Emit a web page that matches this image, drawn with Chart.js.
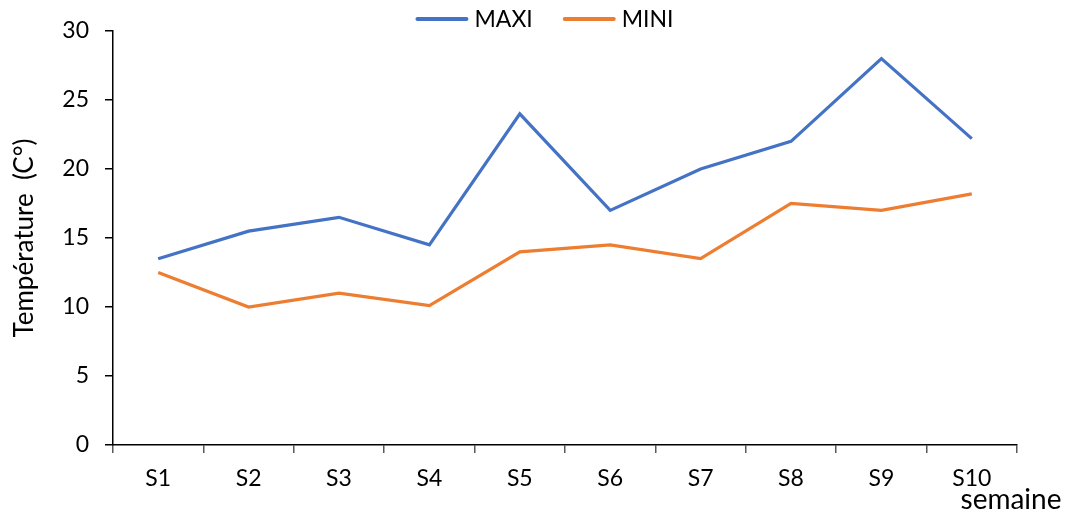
<!DOCTYPE html>
<html>
<head>
<meta charset="utf-8">
<script src="https://cdn.jsdelivr.net/npm/chart.js@4"></script>
<style>
  html, body { margin: 0; padding: 0; background: #ffffff; }
  canvas { display: block; }
</style>
</head>
<body>
<canvas id="chart" width="1065" height="513"></canvas>
<script>
// Weekly temperatures
const weeks = ['S1', 'S2', 'S3', 'S4', 'S5', 'S6', 'S7', 'S8', 'S9', 'S10'];
const maxiValues = [13.5, 15.5, 16.5, 14.5, 24, 17, 20, 22, 28, 22.2];
const miniValues = [12.5, 10, 11, 10.1, 14, 14.5, 13.5, 17.5, 17, 18.2];
const yMin = 0, yMax = 30, yStep = 5;

const FONT = 'Lato, "Open Sans", sans-serif';
const TEXT = '#000000';

// Single-row legend above the plot: a line sample followed by the series name
const topLegend = {
  id: 'topLegend',
  afterDraw(chart) {
    const ctx = chart.ctx;
    const sample = 53, textGap = 6, itemGap = 30, y = 19;
    ctx.save();
    ctx.font = '23px ' + FONT;
    ctx.textBaseline = 'middle';
    ctx.textAlign = 'left';
    const items = chart.data.datasets.map(ds => ({
      label: ds.label,
      color: ds.borderColor,
      w: sample + textGap + ctx.measureText(ds.label).width
    }));
    const total = items.reduce((s, it) => s + it.w, 0) + itemGap * (items.length - 1);
    let x = chart.width / 2 + 12 - total / 2;
    items.forEach(it => {
      ctx.strokeStyle = it.color;
      ctx.lineWidth = 4;
      ctx.lineCap = 'round';
      ctx.beginPath();
      ctx.moveTo(x + 2, y);
      ctx.lineTo(x + sample - 2, y);
      ctx.stroke();
      ctx.fillStyle = TEXT;
      ctx.fillText(it.label, x + sample + textGap, y + 1);
      x += it.w + itemGap;
    });
    ctx.restore();
  }
};

// Axis caption under the last category
const xCaption = {
  id: 'xCaption',
  afterDraw(chart) {
    const ctx = chart.ctx;
    ctx.save();
    ctx.font = '28px ' + FONT;
    ctx.fillStyle = TEXT;
    ctx.textAlign = 'center';
    ctx.textBaseline = 'middle';
    ctx.fillText('semaine', chart.chartArea.right - 6, 500);
    ctx.restore();
  }
};

new Chart(document.getElementById('chart'), {
  type: 'line',
  data: {
    labels: weeks,
    datasets: [
      {
        label: 'MAXI',
        data: maxiValues,
        borderColor: '#4472C4',
        backgroundColor: '#4472C4',
        borderWidth: 3.2,
        pointRadius: 0,
        tension: 0
      },
      {
        label: 'MINI',
        data: miniValues,
        borderColor: '#ED7D31',
        backgroundColor: '#ED7D31',
        borderWidth: 3.2,
        pointRadius: 0,
        tension: 0
      }
    ]
  },
  options: {
    responsive: false,
    animation: false,
    devicePixelRatio: 1,
    layout: { padding: { left: 0, right: 48, top: 31, bottom: 0 } },
    plugins: {
      legend: { display: false },
      tooltip: { enabled: false }
    },
    scales: {
      x: {
        offset: true,
        grid: {
          offset: true,
          drawOnChartArea: false,
          drawTicks: true,
          tickLength: 8,
          color: '#595959',
          lineWidth: 1.5
        },
        border: { color: '#000000', width: 1.5 },
        ticks: {
          font: { family: FONT, size: 23 },
          color: TEXT,
          padding: 12
        },
        afterFit(scale) { scale.height = 68; }
      },
      y: {
        min: yMin,
        max: yMax,
        grid: {
          drawOnChartArea: false,
          drawTicks: true,
          tickLength: 8,
          color: '#000000',
          lineWidth: 1.5
        },
        border: { color: '#000000', width: 1.5 },
        ticks: {
          stepSize: yStep,
          font: { family: FONT, size: 23 },
          color: TEXT,
          padding: 16
        },
        title: {
          display: true,
          text: 'Température  (C°)',
          font: { family: FONT, size: 26 },
          color: TEXT,
          padding: { top: 9, bottom: 0 }
        },
        afterFit(scale) { scale.width = 113; }
      }
    }
  },
  plugins: [topLegend, xCaption]
});
</script>
</body>
</html>
